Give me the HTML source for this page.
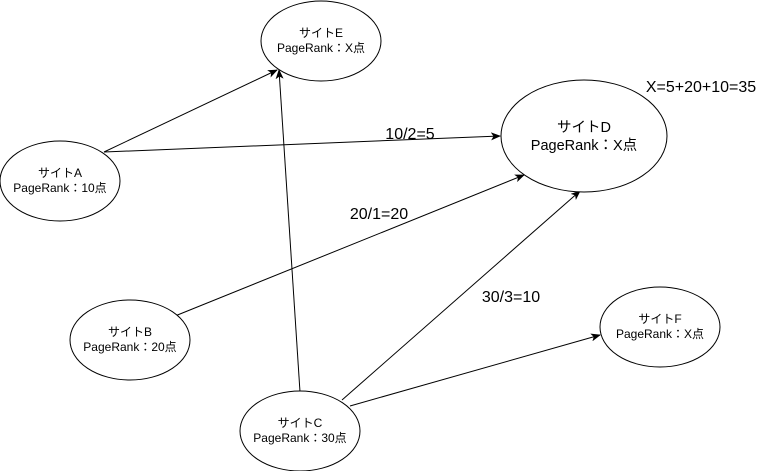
<!DOCTYPE html>
<html><head><meta charset="utf-8"><style>
html,body{margin:0;padding:0;background:#fff;}
svg{display:block;font-family:"Liberation Sans","Noto Sans CJK JP",sans-serif;}
</style></head><body>
<svg width="760" height="471" viewBox="0 0 760 471" xmlns="http://www.w3.org/2000/svg">
<defs><marker id="a" markerWidth="10" markerHeight="8" refX="9" refY="4" orient="auto" markerUnits="userSpaceOnUse"><path d="M0,0 L10,4 L0,8 L2.5,4 z" fill="#000"/></marker></defs>
<g stroke="#000" stroke-width="1" fill="none">
<line x1="104" y1="152" x2="277" y2="70" marker-end="url(#a)"/>
<line x1="104" y1="152" x2="500" y2="136" marker-end="url(#a)"/>
<line x1="175" y1="316" x2="524" y2="175" marker-end="url(#a)"/>
<line x1="300" y1="392" x2="279" y2="70" marker-end="url(#a)"/>
<line x1="342" y1="400" x2="580" y2="191" marker-end="url(#a)"/>
<line x1="350" y1="406" x2="600" y2="335" marker-end="url(#a)"/>
<g fill="#fff">
<ellipse cx="321" cy="41" rx="60" ry="40"/>
<ellipse cx="584" cy="136" rx="83" ry="56"/>
<ellipse cx="60" cy="181" rx="60" ry="40"/>
<ellipse cx="130" cy="340" rx="60" ry="40"/>
<ellipse cx="300" cy="431" rx="60" ry="40"/>
<ellipse cx="660" cy="327" rx="60" ry="40"/>
</g></g>
<g font-size="12" text-anchor="middle" fill="#000">
<text x="321" y="37">サイトE</text><text x="321" y="52">PageRank：X点</text>
<text x="60" y="177">サイトA</text><text x="60" y="192">PageRank：10点</text>
<text x="130" y="336">サイトB</text><text x="130" y="351">PageRank：20点</text>
<text x="300" y="427">サイトC</text><text x="300" y="442">PageRank：30点</text>
<text x="660" y="323">サイトF</text><text x="660" y="338">PageRank：X点</text>
</g>
<g font-size="14.5" text-anchor="middle" fill="#000">
<text x="584" y="132">サイトD</text><text x="584" y="150">PageRank：X点</text>
</g>
<g font-size="16" text-anchor="middle" fill="#000">
<text x="410" y="139">10/2=5</text>
<text x="379" y="219">20/1=20</text>
<text x="511" y="302">30/3=10</text>
<text x="701" y="92">X=5+20+10=35</text>
</g>
</svg>
</body></html>
